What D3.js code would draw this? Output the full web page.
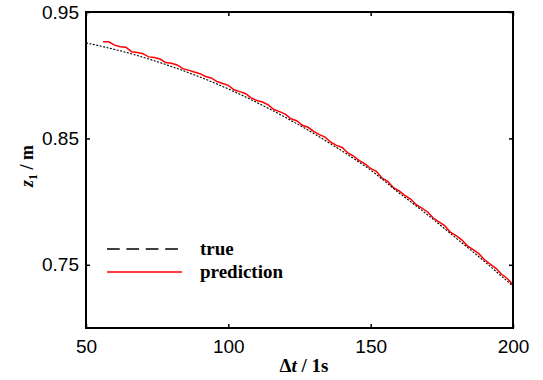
<!DOCTYPE html>
<html>
<head>
<meta charset="utf-8">
<script src="https://cdn.jsdelivr.net/npm/d3@7"></script>
<style>
  body { margin: 0; background: #fff; }
  svg { display: block; }
</style>
</head>
<body>
<svg id="chart"></svg>
<script>
// data
const trueTime = [50, 55, 60, 65, 70, 75, 80, 85, 90, 95, 100, 105, 110, 115, 120, 125,
  130, 135, 140, 145, 150, 155, 160, 165, 170, 175, 180, 185, 190, 195, 200];
const trueZ = [0.9255, 0.9231, 0.9204, 0.9175, 0.9142, 0.9107, 0.9069, 0.9029, 0.8986, 0.8940,
  0.8891, 0.8839, 0.8784, 0.8727, 0.8667, 0.8604, 0.8539, 0.8470, 0.8400, 0.8326,
  0.8249, 0.8160, 0.8068, 0.7983, 0.7895, 0.7804, 0.7711, 0.7620, 0.7526, 0.7429, 0.7331];

const predTime = d3.range(56, 201, 2);
const predZ = [0.9265, 0.9264, 0.9238, 0.9226, 0.9222, 0.9186, 0.9180, 0.9170, 0.9145, 0.9140,
  0.9128, 0.9100, 0.9095, 0.9081, 0.9052, 0.9040, 0.9025, 0.9012, 0.8990, 0.8978,
  0.8950, 0.8935, 0.8920, 0.8885, 0.8870, 0.8855, 0.8820, 0.8800, 0.8788, 0.8765,
  0.8728, 0.8712, 0.8692, 0.8655, 0.8640, 0.8604, 0.8588, 0.8555, 0.8530, 0.8510,
  0.8470, 0.8445, 0.8428, 0.8385, 0.8360, 0.8325, 0.8298, 0.8262, 0.8240, 0.8185,
  0.8160, 0.8110, 0.8085, 0.8050, 0.8020, 0.7975, 0.7948, 0.7918, 0.7870, 0.7840,
  0.7810, 0.7758, 0.7730, 0.7698, 0.7650, 0.7620, 0.7588, 0.7540, 0.7505, 0.7472,
  0.7425, 0.7392, 0.7340];

const xTicks = [50, 100, 150, 200];
const yTicks = [0.75, 0.85, 0.95];
const legendLabels = ["true", "prediction"];

const width = 543, height = 380;
const margin = {top: 12, right: 30, bottom: 52, left: 86};
const w = width - margin.left - margin.right;
const h = height - margin.top - margin.bottom;

const svg = d3.select("#chart").attr("width", width).attr("height", height);
const g = svg.append("g").attr("transform", `translate(${margin.left},${margin.top})`);

const x = d3.scaleLinear().domain([50, 200]).range([0, w]);
const y = d3.scaleLinear().domain([0.70, 0.95]).range([h, 0]);

const tickFont = "'Liberation Sans', Arial, sans-serif";
const serif = "'Liberation Serif', 'Times New Roman', serif";

// axes, ticks pointing inward
const axBottom = g.append("g").attr("transform", `translate(0,${h})`)
    .call(d3.axisBottom(x).tickValues(xTicks).tickSize(-4).tickPadding(12).tickFormat(d3.format("d")));
const axLeft = g.append("g")
    .call(d3.axisLeft(y).tickValues(yTicks).tickSize(-4).tickPadding(7).tickFormat(d3.format(".2f")));
const axTop = g.append("g")
    .call(d3.axisTop(x).tickValues(xTicks).tickSize(-4).tickFormat(""));
const axRight = g.append("g").attr("transform", `translate(${w},0)`)
    .call(d3.axisRight(y).tickValues(yTicks).tickSize(-4).tickFormat(""));

[axBottom, axLeft, axTop, axRight].forEach(a => {
    a.select(".domain").remove();
    a.selectAll(".tick line").attr("stroke", "#000").attr("stroke-width", 1.5);
    a.selectAll("text").attr("font-family", tickFont).attr("font-size", 19).attr("fill", "#000");
});

// lines
const trueLine = d3.line().x((d, i) => x(trueTime[i])).y(d => y(d)).curve(d3.curveMonotoneX);
const predLine = d3.line().x((d, i) => x(predTime[i])).y(d => y(d));

g.append("path")
    .attr("d", predLine(predZ))
    .attr("fill", "none").attr("stroke", "#ff0000").attr("stroke-width", 1.5);

g.append("path")
    .attr("d", trueLine(trueZ))
    .attr("fill", "none").attr("stroke", "#000").attr("stroke-width", 1.1)
    .attr("stroke-dasharray", "2,1.5");

// box
g.append("rect").attr("width", w).attr("height", h)
    .attr("fill", "none").attr("stroke", "#000").attr("stroke-width", 2);

// legend
const legend = g.append("g").attr("transform", "translate(22,237)");
legendLabels.forEach((lab, i) => {
    const ly = i * 23;
    legend.append("line")
        .attr("x1", -1).attr("x2", i === 0 ? 70 : 74).attr("y1", ly).attr("y2", ly)
        .attr("stroke", i === 0 ? "#000" : "#ff0000").attr("stroke-width", 1.5)
        .attr("stroke-dasharray", i === 0 ? "12.7,6.7" : null);
    legend.append("text")
        .attr("x", 92).attr("y", ly + 6)
        .attr("font-family", serif).attr("font-weight", "bold").attr("font-size", 19)
        .text(lab);
});

// axis titles
const xt = svg.append("text")
    .attr("x", 304).attr("y", 372).attr("text-anchor", "middle")
    .attr("font-family", serif).attr("font-weight", "bold").attr("font-size", 19);
xt.append("tspan").text("\u0394");
xt.append("tspan").attr("font-style", "italic").text("t");
xt.append("tspan").text(" / 1s");

const yt = svg.append("text")
    .attr("transform", "translate(33,166) rotate(-90)").attr("text-anchor", "middle")
    .attr("font-family", serif).attr("font-weight", "bold").attr("font-size", 18);
yt.append("tspan").attr("font-style", "italic").text("z");
yt.append("tspan").attr("font-size", 12).attr("dy", 4).text("1");
yt.append("tspan").attr("dy", -4).text(" / m");
</script>
</body>
</html>
